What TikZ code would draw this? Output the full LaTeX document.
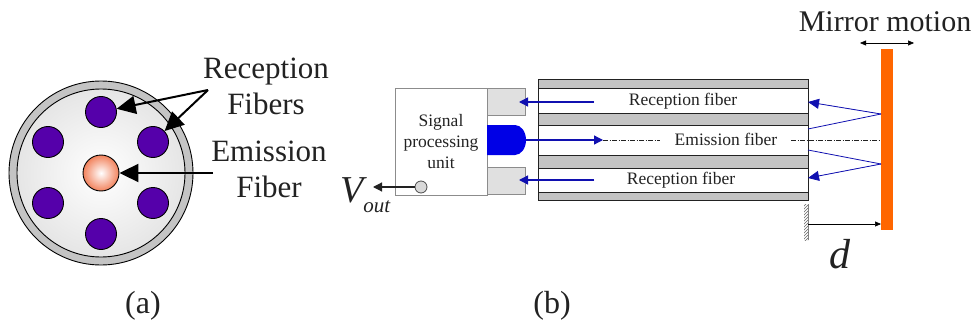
\documentclass[tikz,border=0pt]{standalone}
\usepackage{fontspec}
\setmainfont{Liberation Serif}
\usetikzlibrary{arrows.meta,patterns}

\definecolor{fiberpurple}{HTML}{5500AA}
\definecolor{fibercoral}{HTML}{F2825C}
\definecolor{ledblue}{HTML}{0000E6}
\definecolor{rayblue}{HTML}{1010B0}
\definecolor{mirrororange}{HTML}{FF6600}
\definecolor{bandgray}{HTML}{C4C4C4}
\definecolor{inkgray}{HTML}{222222}

\tikzset{
  bigtext/.style={font=\fontsize{31}{36}\selectfont,text=inkgray,align=center,inner sep=0pt},
  midtext/.style={font=\fontsize{17.5}{21}\selectfont,text=inkgray,align=center,inner sep=0pt},
  captext/.style={font=\fontsize{32}{36}\selectfont,text=inkgray,inner sep=0pt},
  recvfiber/.style={circle,draw=black,line width=0.9pt,fill=fiberpurple,minimum size=31pt,inner sep=0pt},
  bigarrow/.style={-{Triangle[length=19pt,width=18pt]},line width=2pt},
  rayarrow/.style={-{Triangle[length=9pt,width=9pt]},draw=rayblue,fill=rayblue,line width=1.3pt},
  thinarrow/.style={-{Triangle[length=6pt,width=5pt]},line width=0.5pt},
  band/.style={draw=inkgray,line width=0.9pt,fill=bandgray},
  sensorbox/.style={draw=black!45,line width=0.8pt,inner sep=0pt,anchor=north west},
  axisline/.style={draw=inkgray,line width=0.5pt,dash pattern=on 5pt off 1.5pt on 1pt off 1.5pt}
}

\begin{document}
\begin{tikzpicture}[x=1pt,y=-1pt]
\useasboundingbox (0,0) rectangle (976,326);

% (a) cross section
\draw[draw=black,line width=0.9pt,fill=bandgray] (101,173) circle (92);
\draw[draw=black,line width=0.9pt,shading=radial,inner color=white,outer color=black!10] (101,173) circle (84);
\foreach \name/\x/\y in {recvtop/101/112,recvright/153/142,recvleft/48/142,recvlowleft/48/203,recvlowright/153/203,recvbottom/101/234} {
    \node[recvfiber] (\name) at (\x,\y) {};
}
\node[circle,draw=black,line width=0.9pt,minimum size=36pt,inner sep=0pt,shading=radial,inner color=white,outer color=fibercoral] (emitcore) at (101,173) {};

\node[bigtext] (recvlabel) at (266,86) {Reception\\Fibers};
\node[bigtext] (emitlabel) at (269,169) {Emission\\Fiber};
\coordinate (recvsplit) at (208,90);
\coordinate (emitstart) at (213,173);
\draw[bigarrow] (recvsplit) -- (recvtop);
\draw[bigarrow] (recvsplit) -- (recvright);
\draw[bigarrow] (emitstart) -- (emitcore);
\node[captext] (capa) at (143,306) {(a)};

% (b) sensor head
\node[sensorbox,minimum width=92pt,minimum height=107pt] (unit) at (395,88) {};
\node[midtext] (unitlabel) at (441,142) {Signal\\processing\\unit};
\node[sensorbox,fill=black!12,minimum width=38pt,minimum height=27pt] (recvupper) at (487,88) {};
\node[sensorbox,fill=black!12,minimum width=38pt,minimum height=27pt] (recvlower) at (487,167) {};
\fill[ledblue] (487,125) -- (515,125) arc (-90:90:11 and 15) -- (487,155) -- cycle;
\coordinate (ledout) at (526,140);

% fiber bundle
\draw[draw=inkgray,line width=0.9pt,fill=white] (538,79) rectangle (808,200);
\foreach \ya/\yb in {79/88,113/125,155/168,192/200} {
    \draw[band] (538,\ya) rectangle (808,\yb);
}
\node[midtext] (upperlabel) at (683,101) {Reception fiber};
\node[midtext] (emitfiber) at (726,139) {Emission fiber};
\node[midtext] (lowerlabel) at (681,180) {Reception fiber};

\coordinate (upperfrom) at (594,102);
\coordinate (upperto) at (519,102);
\coordinate (lowerfrom) at (594,180);
\coordinate (lowerto) at (519,180);
\coordinate (ledtip) at (603,140);
\draw[rayarrow] (upperfrom) -- (upperto);
\draw[rayarrow] (lowerfrom) -- (lowerto);
\draw[rayarrow] (ledout) -- (ledtip);

% mirror
\node[fill=mirrororange,minimum width=12pt,minimum height=181pt,inner sep=0pt,anchor=north west] (mirror) at (881,49) {};
\coordinate (axisa) at (660,140);
\coordinate (axisb) at (791,140);
\draw[axisline] (ledtip) -- (axisa);
\draw[axisline] (axisb) -- (mirror.west |- axisb);

\coordinate (bounceup) at (881,114);
\coordinate (bouncedown) at (881,164);
\coordinate (rayupstart) at (808,129);
\coordinate (raydownstart) at (808,150);
\coordinate (rayupend) at (808,102);
\coordinate (raydownend) at (808,178);
\draw[draw=rayblue,line width=0.8pt] (rayupstart) -- (bounceup);
\draw[draw=rayblue,line width=0.8pt] (raydownstart) -- (bouncedown);
\draw[rayarrow,line width=0.8pt,-{Triangle[length=11pt,width=10pt]}] (bounceup) -- (rayupend);
\draw[rayarrow,line width=0.8pt,-{Triangle[length=11pt,width=10pt]}] (bouncedown) -- (raydownend);

\node[font=\fontsize{30}{36}\selectfont,text=inkgray,inner sep=0pt] (motionlabel) at (885,22) {Mirror motion};
\coordinate (motionleft) at (860,43);
\coordinate (motionright) at (914,43);
\draw[line width=0.5pt,{Triangle[length=6pt,width=5pt]}-{Triangle[length=6pt,width=5pt]}] (motionleft) -- (motionright);

% reference wall and gap
\fill[pattern=north east lines,pattern color=black!60] (804,204) rectangle (808,240);
\draw[black!50,line width=0.5pt] (808,204) -- (808,240);
\coordinate (gapstart) at (808,224);
\draw[thinarrow] (gapstart) -- (mirror.west |- gapstart);
\node[font=\fontsize{42}{46}\selectfont\itshape,text=inkgray,inner sep=0pt] (gaplabel) at (840,254) {d};

% output
\node[circle,draw=black!70,line width=0.8pt,fill=black!15,minimum size=12pt,inner sep=0pt] (vterm) at (421,187) {};
\node[font=\fontsize{38}{46}\selectfont\itshape,text=inkgray,inner sep=0pt,anchor=base west] (vlabel) at (340,202) {V\raisebox{-10pt}{\fontsize{21}{26}\selectfont out}};
\coordinate (vend) at (373,187);
\draw[-{Triangle[length=9pt,width=9pt]},line width=1.2pt,draw=inkgray] (vterm) -- (vend);

\node[captext] (capb) at (552,306) {(b)};
\end{tikzpicture}
\end{document}
